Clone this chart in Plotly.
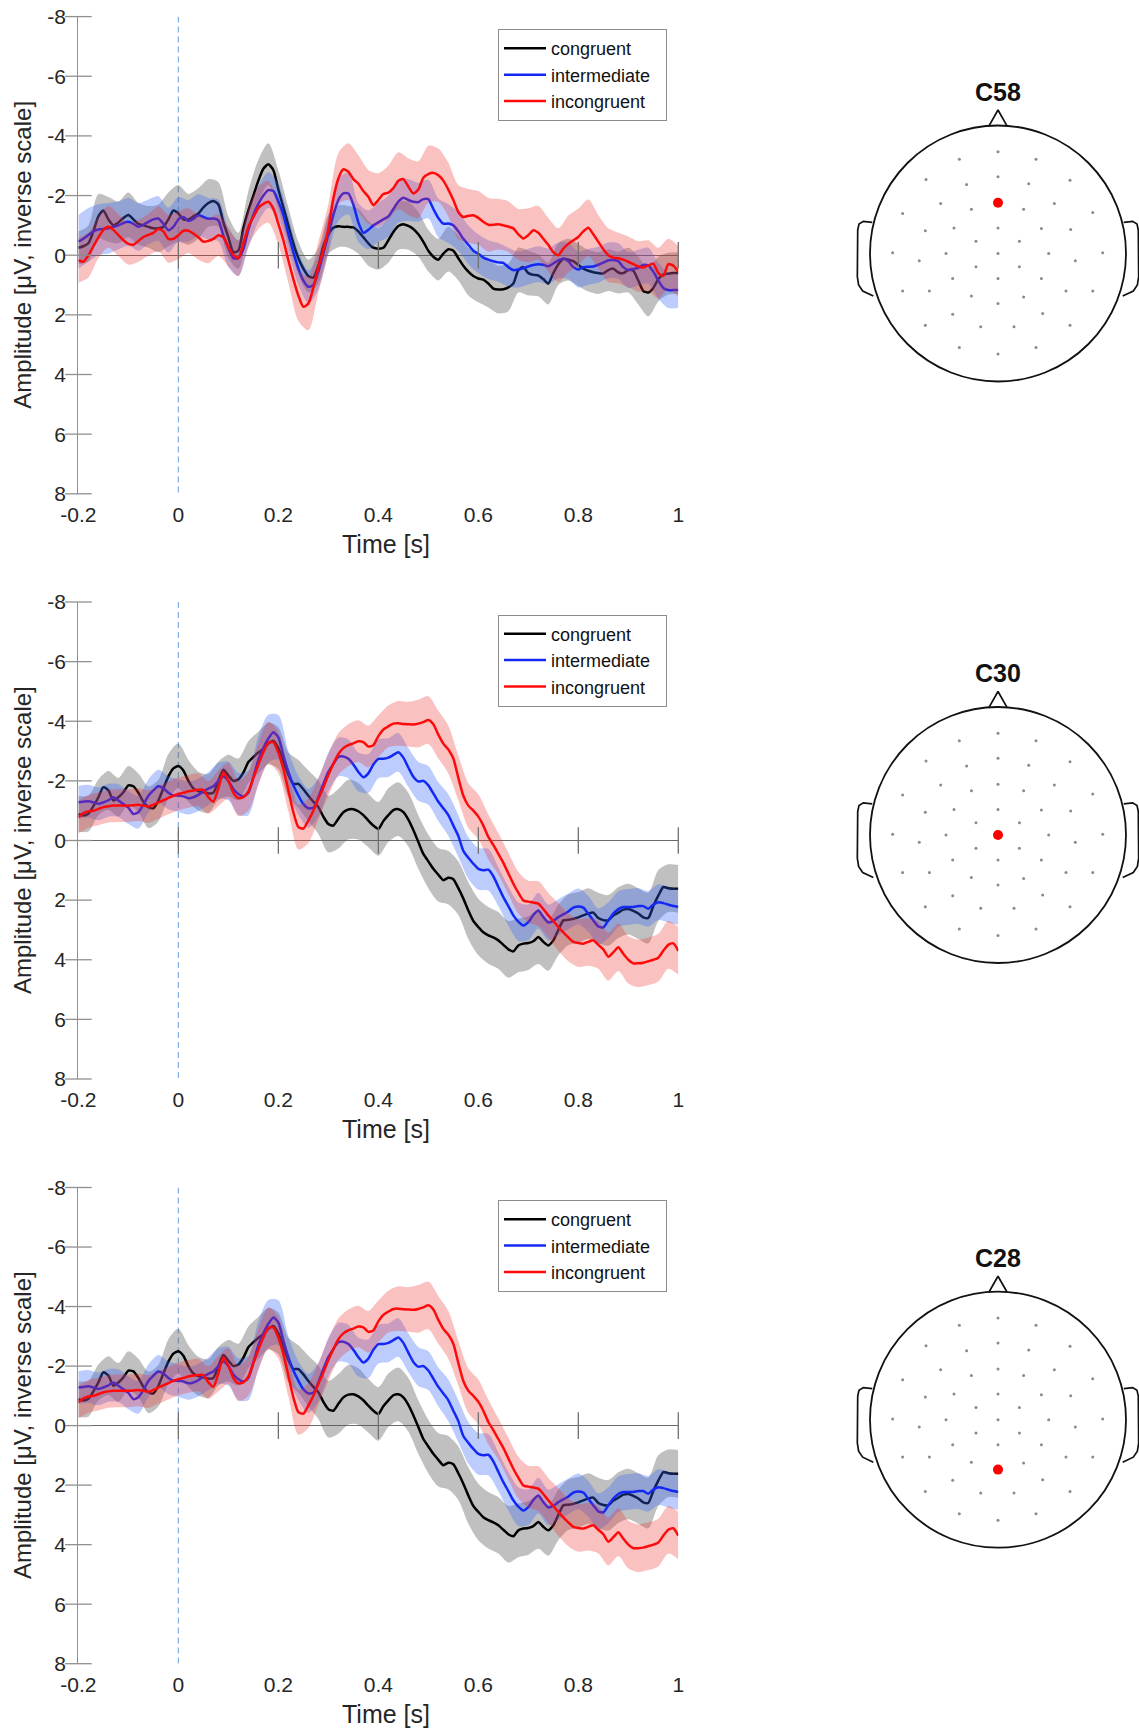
import plotly.graph_objects as go

# ---------------- data ----------------
TIME = [round(-0.2 + 0.01 * i, 2) for i in range(121)]
TIME_SEM = TIME[::2]

XTICKS = [-0.2, 0, 0.2, 0.4, 0.6, 0.8, 1.0]
XTICKLABELS = ["-0.2", "0", "0.2", "0.4", "0.6", "0.8", "1"]
YTICKS = [-8, -6, -4, -2, 0, 2, 4, 6, 8]
YTICKLABELS = ["-8", "-6", "-4", "-2", "0", "2", "4", "6", "8"]

CONDITIONS = ["congruent", "intermediate", "incongruent"]

# Channel C58
C58_CONGRUENT = [
    -0.25, -0.3, -0.4, -0.8, -1.3, -1.5, -1.2, -1.0, -1.1, -1.25,
    -1.35, -1.2, -1.05, -1.0, -0.95, -0.9, -0.9, -0.95, -1.2, -1.5,
    -1.4, -1.2, -1.2, -1.3, -1.4, -1.6, -1.75, -1.82, -1.7, -1.1,
    -0.6, -0.1, -0.15, -0.9, -1.5, -2.0, -2.5, -2.9, -3.05, -2.85,
    -2.2, -1.6, -1.0, -0.4, 0.1, 0.45, 0.7, 0.75, 0.35, -0.3,
    -0.7, -0.92, -0.97, -0.95, -0.95, -0.93, -0.8, -0.6, -0.4, -0.25,
    -0.22, -0.25, -0.5, -0.78, -0.98, -1.04, -0.98, -0.88, -0.7, -0.45,
    -0.15, 0.05, 0.15, -0.05, -0.2, -0.15, 0.1, 0.35, 0.55, 0.7,
    0.78, 0.82, 0.95, 1.12, 1.15, 1.14, 1.08, 0.95, 0.5, 0.4,
    0.6, 0.66, 0.68, 0.8, 0.95, 0.6, 0.3, 0.12, 0.15, 0.2,
    0.33, 0.45, 0.52, 0.57, 0.6, 0.61, 0.5, 0.45, 0.58, 0.6,
    0.5, 0.52, 0.85, 1.2, 1.25, 1.1, 0.8, 0.65, 0.62, 0.6,
    0.6]
C58_INTERMEDIATE = [
    -0.45, -0.55, -0.68, -0.8, -0.86, -0.88, -0.9, -0.95, -1.0, -1.08,
    -1.12, -1.05, -0.95, -1.02, -1.12, -1.2, -1.23, -1.05, -0.84, -0.95,
    -1.2, -1.28, -1.15, -1.22, -1.34, -1.28, -1.22, -1.23, -1.17, -0.65,
    -0.25, 0.1, 0.1, -0.2, -0.85, -1.35, -1.72, -2.0, -2.18, -2.15,
    -1.8, -1.35, -0.7, -0.1, 0.45, 0.85, 1.06, 1.0, 0.55, -0.06,
    -0.7, -1.35, -1.85, -2.07, -2.07, -1.7, -1.1, -0.75, -0.85, -1.0,
    -1.1, -1.2, -1.3, -1.55, -1.8, -1.93, -1.85, -1.79, -1.78, -1.88,
    -1.88, -1.55, -1.25, -1.06, -1.06, -1.0, -0.8, -0.55, -0.35, -0.15,
    -0.05, 0.08, 0.15, 0.2, 0.24, 0.26, 0.4, 0.5, 0.48, 0.44,
    0.38, 0.33, 0.3, 0.32, 0.37, 0.28, 0.17, 0.12, 0.2, 0.4,
    0.48, 0.4, 0.39, 0.38, 0.32, 0.25, 0.17, 0.16, 0.2, 0.4,
    0.5, 0.46, 0.42, 0.33, 0.35, 0.55, 0.85, 1.1, 1.17, 1.17,
    1.17]
C58_INCONGRUENT = [
    0.17, 0.22, 0.0, -0.3, -0.6, -0.85, -0.95, -0.85, -0.67, -0.5,
    -0.38, -0.35, -0.48, -0.61, -0.68, -0.75, -0.88, -0.8, -0.55, -0.55,
    -0.67, -0.82, -0.82, -0.73, -0.6, -0.45, -0.48, -0.55, -0.67, -0.6,
    -0.28, 0.0, 0.1, -0.39, -0.95, -1.28, -1.58, -1.72, -1.79, -1.56,
    -1.05, -0.5, 0.17, 0.8, 1.35, 1.73, 1.62, 1.1, 0.4, -0.17,
    -0.9, -1.9, -2.57, -2.88, -2.8, -2.55, -2.4, -2.15, -1.96, -1.68,
    -1.85, -2.05, -2.1, -2.25, -2.5, -2.55, -2.3, -2.07, -2.2, -2.6,
    -2.72, -2.76, -2.68, -2.5, -2.2, -1.85, -1.45, -1.28, -1.32, -1.34,
    -1.25, -1.12, -1.02, -1.02, -1.04, -1.0, -0.96, -0.9, -0.7, -0.56,
    -0.67, -0.84, -0.75, -0.55, -0.35, -0.1, 0.0, -0.22, -0.38, -0.5,
    -0.61, -0.8, -0.92, -0.7, -0.45, -0.2, 0.0, 0.08, 0.1, 0.15,
    0.22, 0.3, 0.38, 0.41, 0.35, 0.28, 0.6, 0.7, 0.3, 0.35,
    0.55]
C58_CONGRUENT_SEM = [
    0.55, 0.6, 0.75, 0.75, 0.7, 0.75, 0.7, 0.7, 0.8, 0.9,
    0.95, 0.85, 0.85, 0.8, 0.75, 0.7, 0.6, 0.65, 0.7, 0.7,
    0.65, 0.6, 0.55, 0.55, 0.6, 0.65, 0.7, 0.7, 0.75, 0.75,
    0.7, 0.75, 0.8, 0.8, 0.75, 0.7, 0.7, 0.75, 0.75, 0.8,
    0.8, 0.8, 0.8, 0.8, 0.75, 0.75, 0.7, 0.7, 0.7, 0.7,
    0.7, 0.7, 0.7, 0.7, 0.7, 0.75, 0.8, 0.8, 0.75, 0.7, 0.7]
C58_INTERMEDIATE_SEM = [
    0.9, 0.9, 0.85, 0.85, 0.8, 0.8, 0.8, 0.75, 0.75, 0.75,
    0.75, 0.7, 0.7, 0.7, 0.7, 0.65, 0.6, 0.6, 0.6, 0.6,
    0.6, 0.6, 0.55, 0.55, 0.6, 0.65, 0.7, 0.7, 0.65, 0.65,
    0.65, 0.7, 0.7, 0.7, 0.65, 0.65, 0.65, 0.65, 0.65, 0.65,
    0.65, 0.65, 0.65, 0.65, 0.6, 0.6, 0.6, 0.6, 0.6, 0.6,
    0.6, 0.6, 0.6, 0.6, 0.6, 0.6, 0.6, 0.6, 0.6, 0.6, 0.6]
C58_INCONGRUENT_SEM = [
    0.75, 0.75, 0.7, 0.7, 0.7, 0.7, 0.7, 0.7, 0.75, 0.8,
    0.8, 0.75, 0.75, 0.75, 0.7, 0.65, 0.6, 0.65, 0.7, 0.7,
    0.7, 0.75, 0.85, 0.9, 0.85, 0.8, 0.85, 0.95, 0.95, 0.9,
    0.9, 0.9, 0.95, 0.95, 0.95, 0.95, 0.9, 0.9, 0.9, 0.9,
    0.9, 0.9, 0.85, 0.85, 0.85, 0.9, 0.9, 0.9, 0.9, 0.95,
    0.95, 0.95, 0.9, 0.9, 0.85, 0.85, 0.85, 0.85, 0.85, 0.85, 0.85]

# Channel C30
C30_CONGRUENT = [
    -0.89, -0.84, -0.9, -1.15, -1.45, -1.79, -1.68, -1.34, -1.45, -1.62,
    -1.85, -1.82, -1.6, -1.3, -1.12, -1.08, -1.34, -1.75, -2.15, -2.42,
    -2.5, -2.35, -2.0, -1.75, -1.66, -1.62, -1.58, -1.6, -2.0, -2.37,
    -2.18, -2.0, -2.05, -2.28, -2.63, -2.8, -2.95, -3.07, -3.25, -3.35,
    -3.1, -2.65, -2.2, -1.9, -1.9, -1.72, -1.5, -1.3, -1.12, -0.8,
    -0.55, -0.5, -0.73, -0.95, -1.04, -1.05, -0.98, -0.85, -0.67, -0.5,
    -0.39, -0.65, -0.85, -1.02, -1.05, -0.95, -0.7, -0.35, 0.05, 0.45,
    0.7, 0.95, 1.15, 1.33, 1.25, 1.3, 1.6, 1.95, 2.35, 2.7,
    2.9, 3.08, 3.18, 3.25, 3.35, 3.5, 3.65, 3.72, 3.52, 3.46,
    3.44, 3.38, 3.24, 3.4, 3.52, 3.35, 3.0, 2.68, 2.66, 2.63,
    2.58, 2.51, 2.45, 2.42, 2.6, 2.67, 2.68, 2.52, 2.42, 2.32,
    2.3, 2.36, 2.45, 2.58, 2.6, 2.2, 1.85, 1.56, 1.6, 1.62,
    1.62]
C30_INTERMEDIATE = [
    -1.28, -1.3, -1.32, -1.28, -1.23, -1.28, -1.35, -1.45, -1.34, -1.22,
    -1.1, -0.89, -0.95, -1.2, -1.5, -1.68, -1.82, -1.75, -1.6, -1.51,
    -1.51, -1.48, -1.42, -1.45, -1.53, -1.65, -1.74, -1.82, -2.0, -2.15,
    -2.0, -1.72, -1.56, -1.48, -1.6, -2.12, -2.7, -3.1, -3.42, -3.63,
    -3.46, -2.85, -2.3, -1.85, -1.51, -1.22, -1.08, -1.1, -1.45, -1.9,
    -2.3, -2.57, -2.8, -2.82, -2.74, -2.55, -2.3, -2.12, -2.25, -2.55,
    -2.74, -2.74, -2.78, -2.87, -2.96, -2.78, -2.45, -2.14, -1.98, -2.0,
    -1.85, -1.58, -1.3, -1.08, -0.85, -0.5, -0.15, 0.35, 0.58, 0.78,
    0.95, 1.0, 0.98, 1.2, 1.55, 1.9, 2.2, 2.51, 2.72, 2.85,
    2.74, 2.5, 2.35, 2.57, 2.75, 2.7, 2.57, 2.48, 2.38, 2.25,
    2.21, 2.25, 2.46, 2.68, 2.88, 2.92, 2.68, 2.45, 2.3, 2.23,
    2.23, 2.23, 2.2, 2.2, 2.29, 2.15, 2.07, 2.1, 2.15, 2.2,
    2.23]
C30_INCONGRUENT = [
    -0.78, -0.92, -0.98, -1.0, -1.06, -1.12, -1.15, -1.17, -1.17, -1.17,
    -1.17, -1.18, -1.2, -1.17, -1.14, -1.2, -1.28, -1.35, -1.43, -1.5,
    -1.56, -1.6, -1.65, -1.68, -1.7, -1.7, -1.45, -1.3, -1.75, -2.29,
    -2.0, -1.6, -1.42, -1.45, -1.65, -2.1, -2.55, -2.96, -3.28, -3.3,
    -2.95, -2.4, -1.68, -0.95, -0.45, -0.4, -0.67, -1.0, -1.4, -1.78,
    -2.2, -2.57, -2.9, -3.1, -3.2, -3.26, -3.33, -3.3, -3.15, -3.2,
    -3.5, -3.72, -3.83, -3.92, -3.93, -3.91, -3.9, -3.89, -3.92, -3.97,
    -4.04, -3.9, -3.55, -3.25, -3.05, -2.75, -2.1, -1.5, -1.17, -1.0,
    -0.8, -0.5, -0.12, 0.15, 0.45, 0.75, 1.1, 1.45, 1.75, 2.01,
    2.05, 2.08, 2.12, 2.3, 2.51, 2.7, 2.9, 3.08, 3.25, 3.4,
    3.44, 3.46, 3.4, 3.35, 3.5, 3.65, 3.9, 3.75, 3.58, 3.8,
    4.0, 4.12, 4.12, 4.1, 4.05, 4.0, 3.93, 3.7, 3.5, 3.45,
    3.7]
C30_CONGRUENT_SEM = [
    0.6, 0.6, 0.6, 0.65, 0.65, 0.65, 0.65, 0.7, 0.7, 0.75,
    0.75, 0.7, 0.65, 0.65, 0.65, 0.7, 0.7, 0.7, 0.7, 0.7,
    0.7, 0.75, 0.8, 0.85, 0.9, 0.95, 1.0, 1.0, 0.95, 0.9,
    0.9, 0.9, 0.9, 0.9, 0.9, 0.9, 0.9, 0.9, 0.9, 0.95,
    0.95, 0.95, 0.95, 0.95, 0.9, 0.9, 0.9, 0.85, 0.85, 0.85,
    0.85, 0.85, 0.85, 0.85, 0.85, 0.85, 0.85, 0.85, 0.85, 0.8, 0.8]
C30_INTERMEDIATE_SEM = [
    0.55, 0.55, 0.55, 0.55, 0.55, 0.55, 0.55, 0.55, 0.55, 0.55,
    0.55, 0.55, 0.55, 0.55, 0.6, 0.65, 0.7, 0.75, 0.8, 0.8,
    0.75, 0.7, 0.65, 0.65, 0.65, 0.65, 0.65, 0.65, 0.65, 0.65,
    0.65, 0.65, 0.65, 0.65, 0.65, 0.65, 0.65, 0.7, 0.7, 0.7,
    0.7, 0.7, 0.65, 0.65, 0.65, 0.6, 0.6, 0.6, 0.6, 0.6,
    0.6, 0.6, 0.6, 0.6, 0.6, 0.6, 0.6, 0.6, 0.6, 0.6, 0.6]
C30_INCONGRUENT_SEM = [
    0.55, 0.55, 0.55, 0.55, 0.55, 0.55, 0.55, 0.55, 0.55, 0.55,
    0.55, 0.55, 0.55, 0.55, 0.6, 0.6, 0.6, 0.65, 0.7, 0.7,
    0.7, 0.7, 0.75, 0.75, 0.7, 0.7, 0.7, 0.7, 0.7, 0.7,
    0.7, 0.7, 0.75, 0.75, 0.8, 0.8, 0.8, 0.8, 0.75, 0.75,
    0.75, 0.75, 0.7, 0.7, 0.7, 0.7, 0.75, 0.75, 0.8, 0.8,
    0.8, 0.8, 0.8, 0.8, 0.8, 0.8, 0.8, 0.8, 0.8, 0.8, 0.8]

# Channel C28 (the published panel shows the same curves as C30)
C28_CONGRUENT = list(C30_CONGRUENT)
C28_INTERMEDIATE = list(C30_INTERMEDIATE)
C28_INCONGRUENT = list(C30_INCONGRUENT)
C28_CONGRUENT_SEM = list(C30_CONGRUENT_SEM)
C28_INTERMEDIATE_SEM = list(C30_INTERMEDIATE_SEM)
C28_INCONGRUENT_SEM = list(C30_INCONGRUENT_SEM)

CHANNELS = ["C58", "C30", "C28"]

# Electrode layout (head radius = 1, nose up)
ELEC_X = [0.0, -0.302, 0.297, 0.0, -0.5625, -0.245, 0.24, 0.5625,
          -0.448, -0.208, 0.0, 0.2, 0.44, -0.745, 0.74,
          -0.568, -0.344, 0.0, 0.339, 0.568, -0.172, 0.167,
          -0.823, -0.406, 0.0, 0.396, 0.818, -0.615, 0.604,
          -0.172, 0.167, -0.354, 0.0, 0.339,
          -0.745, -0.536, -0.208, 0.2, 0.531, 0.74, 0.0,
          -0.354, 0.349, -0.568, -0.135, 0.125, 0.5625,
          -0.302, 0.297, 0.0]
ELEC_Y = [0.794, 0.737, 0.737, 0.599, 0.578, 0.539, 0.544, 0.573,
          0.391, 0.346, 0.396, 0.346, 0.391, 0.3125, 0.32,
          0.177, 0.2, 0.2, 0.195, 0.1875, 0.096, 0.096,
          0.005, 0.0, 0.0, 0.0, 0.005, -0.057, -0.057,
          -0.104, -0.104, -0.195, -0.195, -0.195,
          -0.292, -0.292, -0.333, -0.339, -0.292, -0.292, -0.39,
          -0.474, -0.469, -0.56, -0.573, -0.573, -0.56,
          -0.734, -0.734, -0.786]
CHANNEL_POS = {"C58": (0.0, 0.396), "C30": (0.0, 0.0), "C28": (0.0, -0.39)}

NOSE_X = [-0.0703, 0.0, 0.0703]
NOSE_Y = [0.9975, 1.121, 0.9975]
EAR_X = [-0.982, -1.052, -1.086, -1.096, -1.099, -1.089, -1.057, -1.005, -0.974]
EAR_Y = [0.243, 0.251, 0.230, 0.184, -0.181, -0.246, -0.293, -0.319, -0.332]

# ---------------- styling / layout ----------------
W, H = 1139, 1733
FONT = "Liberation Sans, Arial, sans-serif"
LINE_COLORS = {"congruent": "#000000", "intermediate": "#1428f5", "incongruent": "#ff0a0a"}
BAND_COLORS = {"congruent": "rgba(90,90,90,0.38)",
               "intermediate": "rgba(50,100,250,0.33)",
               "incongruent": "rgba(240,50,50,0.30)"}

AX_LEFT, AX_RIGHT = 78.4, 678.3
PANEL_TOP = [16.6, 602.0, 1187.5]
PANEL_BOT = [493.8, 1079.0, 1663.7]
HEAD_CY = [253.5, 835.0, 1419.7]
HEAD_CX, HEAD_R = 998.0, 128.0

data = {
    "C58": ([C58_CONGRUENT, C58_INTERMEDIATE, C58_INCONGRUENT],
            [C58_CONGRUENT_SEM, C58_INTERMEDIATE_SEM, C58_INCONGRUENT_SEM]),
    "C30": ([C30_CONGRUENT, C30_INTERMEDIATE, C30_INCONGRUENT],
            [C30_CONGRUENT_SEM, C30_INTERMEDIATE_SEM, C30_INCONGRUENT_SEM]),
    "C28": ([C28_CONGRUENT, C28_INTERMEDIATE, C28_INCONGRUENT],
            [C28_CONGRUENT_SEM, C28_INTERMEDIATE_SEM, C28_INCONGRUENT_SEM]),
}

fig = go.Figure()
layout = dict(
    width=W, height=H, margin=dict(l=0, r=0, t=0, b=0, pad=0, autoexpand=False),
    paper_bgcolor="white", plot_bgcolor="white",
    font=dict(family=FONT, color="#262626"),
    showlegend=True,
)
annotations = []
shapes = []

for p, ch in enumerate(CHANNELS):
    sfx = "" if p == 0 else str(p + 1)
    xa, ya = "x" + sfx, "y" + sfx
    legend_name = "legend" if p == 0 else "legend" + str(p + 1)
    means, sems = data[ch]
    for ci, cond in enumerate(CONDITIONS):
        m = means[ci]
        s = sems[ci]
        m2 = m[::2]
        upper = [a - b for a, b in zip(m2, s)]
        lower = [a + b for a, b in zip(m2, s)]
        fig.add_trace(go.Scatter(x=TIME_SEM, y=upper, mode="lines",
                                 line=dict(width=0, shape="spline", smoothing=0.8),
                                 xaxis=xa, yaxis=ya, showlegend=False, hoverinfo="skip"))
        fig.add_trace(go.Scatter(x=TIME_SEM, y=lower, mode="lines", fill="tonexty",
                                 fillcolor=BAND_COLORS[cond],
                                 line=dict(width=0, shape="spline", smoothing=0.8),
                                 xaxis=xa, yaxis=ya, showlegend=False, hoverinfo="skip"))
        fig.add_trace(go.Scatter(x=TIME, y=m, mode="lines",
                                 name=cond + "\u00a0\u00a0",
                                 line=dict(color=LINE_COLORS[cond], width=2.5,
                                           shape="spline", smoothing=0.6),
                                 xaxis=xa, yaxis=ya, legend=legend_name))
    # crossing tick marks on the zero line and on the y axis
    fig.add_trace(go.Scatter(x=XTICKS[1:], y=[0] * (len(XTICKS) - 1), mode="markers",
                             marker=dict(symbol="line-ns", size=19,
                                         line=dict(width=1.3, color="#707070")),
                             xaxis=xa, yaxis=ya, showlegend=False, hoverinfo="skip",
                             cliponaxis=False))
    fig.add_trace(go.Scatter(x=[XTICKS[0]] * len(YTICKS), y=YTICKS, mode="markers",
                             marker=dict(symbol="line-ew", size=19,
                                         line=dict(width=1.3, color="#909090")),
                             xaxis=xa, yaxis=ya, showlegend=False, hoverinfo="skip",
                             cliponaxis=False))

    top, bot = PANEL_TOP[p], PANEL_BOT[p]
    ydom = [1 - bot / H, 1 - top / H]
    layout["xaxis" + sfx] = dict(
        domain=[AX_LEFT / W, AX_RIGHT / W], range=[-0.2, 1.0], anchor=ya,
        automargin=False,
        showgrid=False, zeroline=False, showline=False, ticks="",
        tickvals=XTICKS, ticktext=XTICKLABELS, ticklabelstandoff=6,
        tickfont=dict(size=21, family=FONT, color="#262626"))
    layout["yaxis" + sfx] = dict(
        domain=ydom, range=[8, -8], anchor=xa,
        automargin=False,
        showgrid=False, zeroline=True, zerolinecolor="#6a6a6a", zerolinewidth=1.3,
        showline=True, linecolor="#909090", linewidth=1.3, ticks="",
        tickvals=YTICKS, ticktext=YTICKLABELS, ticklabelstandoff=7,
        tickfont=dict(size=21, family=FONT, color="#262626"))
    layout[legend_name] = dict(
        x=498.0 / W, y=1 - (top + 12.5) / H, xanchor="left", yanchor="top",
        bgcolor="white", bordercolor="#8c8c8c", borderwidth=1,
        font=dict(size=18, family=FONT, color="#111111"),
        traceorder="normal", tracegroupgap=0, itemwidth=42)
    shapes.append(dict(type="line", xref=xa, yref=ya, x0=0, x1=0, y0=-8, y1=8,
                       line=dict(color="#86b3e3", width=1.3, dash="6px,4px"), layer="below"))
    annotations.append(dict(text="Time [s]", x=385.5 / W, y=1 - (top + 526.9) / H,
                            xref="paper", yref="paper", showarrow=False,
                            xanchor="center", yanchor="middle",
                            font=dict(size=25, family=FONT, color="#262626")))
    annotations.append(dict(text="Amplitude [μV, inverse scale]", x=22.5 / W,
                            y=1 - (top + bot) / 2 / H, xref="paper", yref="paper",
                            showarrow=False, textangle=-90, xanchor="center",
                            yanchor="middle",
                            font=dict(size=24, family=FONT, color="#262626")))

    # ---- head (topography layout) ----
    hs = str(p + 4)
    hxa, hya = "x" + hs, "y" + hs
    cy = HEAD_CY[p]
    x0px, x1px = 840.0, 1139.0
    half = 150.0
    layout["xaxis" + hs] = dict(domain=[x0px / W, x1px / W],
                                range=[(x0px - HEAD_CX) / HEAD_R, (x1px - HEAD_CX) / HEAD_R],
                                visible=False, anchor=hya, fixedrange=True, automargin=False)
    layout["yaxis" + hs] = dict(domain=[1 - (cy + half) / H, 1 - (cy - half) / H],
                                range=[-half / HEAD_R, half / HEAD_R],
                                visible=False, anchor=hxa, fixedrange=True, automargin=False)
    shapes.append(dict(type="circle", xref=hxa, yref=hya, x0=-1, y0=-1, x1=1, y1=1,
                       line=dict(color="#111111", width=1.8)))
    fig.add_trace(go.Scatter(x=NOSE_X, y=NOSE_Y, mode="lines",
                             line=dict(color="#111111", width=1.7),
                             xaxis=hxa, yaxis=hya, showlegend=False, hoverinfo="skip"))
    fig.add_trace(go.Scatter(x=EAR_X, y=EAR_Y, mode="lines",
                             line=dict(color="#111111", width=1.7),
                             xaxis=hxa, yaxis=hya, showlegend=False, hoverinfo="skip"))
    fig.add_trace(go.Scatter(x=[-v for v in EAR_X], y=EAR_Y, mode="lines",
                             line=dict(color="#111111", width=1.7),
                             xaxis=hxa, yaxis=hya, showlegend=False, hoverinfo="skip"))
    fig.add_trace(go.Scatter(x=ELEC_X, y=ELEC_Y, mode="markers",
                             marker=dict(size=3, color="#8a8a8a"),
                             xaxis=hxa, yaxis=hya, showlegend=False, hoverinfo="skip"))
    hx, hy = CHANNEL_POS[ch]
    fig.add_trace(go.Scatter(x=[hx], y=[hy], mode="markers",
                             marker=dict(size=10, color="#ff0000"),
                             xaxis=hxa, yaxis=hya, showlegend=False, hoverinfo="skip"))
    annotations.append(dict(text="<b>" + ch + "</b>", x=HEAD_CX / W, y=1 - (cy - 161.7) / H,
                            xref="paper", yref="paper", showarrow=False,
                            xanchor="center", yanchor="middle",
                            font=dict(size=25, family=FONT, color="#111111")))

layout["annotations"] = annotations
layout["shapes"] = shapes
fig.update_layout(**layout)
fig.write_html("out.html",
               config={"displayModeBar": False},
               post_script="document.body.style.margin='0px';"
                           "document.body.style.overflow='hidden';")
